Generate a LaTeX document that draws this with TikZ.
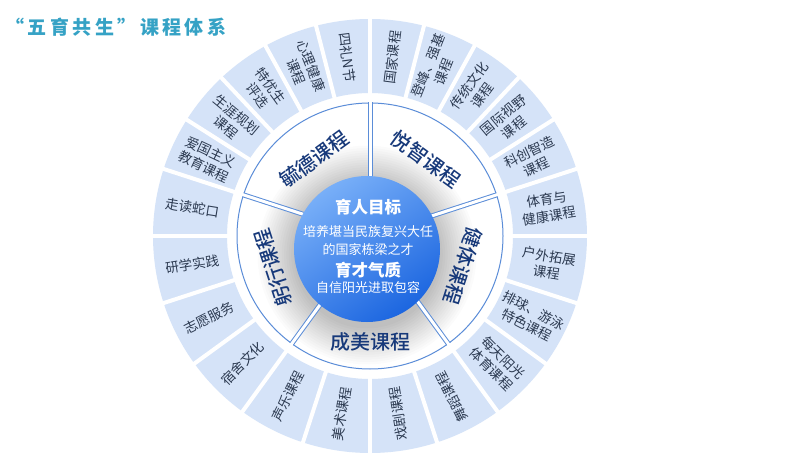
\documentclass[tikz,border=0pt]{standalone}
\usepackage{fontspec}
\newfontfamily\cjk{Noto Sans CJK SC}
\newfontfamily\cjktitle[LetterSpace=18]{Noto Sans CJK SC}
\IfFontExistsTF{Noto Sans CJK SC Medium}
    {\newfontfamily\cjkmid{Noto Sans CJK SC Medium}}
    {\newfontfamily\cjkmid[FakeBold=1.2]{Noto Sans CJK SC}}
\usetikzlibrary{calc}
\definecolor{titleteal}{HTML}{35A2C5}
\definecolor{ringblue}{HTML}{5B8DD8}
\definecolor{boxblue}{HTML}{D5E3F8}
\definecolor{navytext}{HTML}{17397A}
\definecolor{graytext}{HTML}{2B3950}
\definecolor{corelight}{HTML}{78AFF8}
\definecolor{coredark}{HTML}{1C66E0}

\begin{document}
\begin{tikzpicture}[
    x=1pt, y=1pt,
    outertext/.style={font=\cjk\fontsize{13.5}{16.5}\selectfont, text=graytext, align=center, inner sep=0pt},
    midtext/.style={font=\cjkmid\fontsize{20}{22}\selectfont, text=navytext, inner sep=0pt},
    coretitle/.style={font=\cjk\bfseries\fontsize{16.5}{18}\selectfont, text=white, inner sep=0pt},
    corebody/.style={font=\cjk\fontsize{13}{18}\selectfont, text=white, align=center, inner sep=0pt},
]
\useasboundingbox (0,0) rectangle (796,467);
\fill[white] (0,0) rectangle (796,467);

% Title
\node[font=\cjktitle\bfseries\fontsize{19}{22}\selectfont, text=titleteal, anchor=west] (title) at (2,440) {“五育共生”课程体系};

\coordinate (C) at (370,231);
\coordinate (core) at (367,218);

% Outer ring of courses
\begin{scope}[shift={(C)}]
\foreach \i in {0,...,9} {
    \pgfmathsetmacro\a{18+14.4*\i}
    \fill[boxblue] (\a:143) arc[start angle=\a, end angle=\a+14.4, radius=143]
        -- (\a+14.4:217) arc[start angle=\a+14.4, end angle=\a, radius=217] -- cycle;
}
\foreach \i in {0,...,11} {
    \pgfmathsetmacro\a{162+18*\i}
    \fill[boxblue] (\a:143) arc[start angle=\a, end angle=\a+18, radius=143]
        -- (\a+18:217) arc[start angle=\a+18, end angle=\a, radius=217] -- cycle;
}
\foreach \a in {18,32.4,46.8,61.2,75.6,90,104.4,118.8,133.2,147.6,162,180,198,216,234,252,270,288,306,324,342,0}
    \draw[white, line width=4] (\a:138) -- (\a:222);

% Middle ring
\fill[white] (0,0) circle (136);
\end{scope}

% shadow under the core
\foreach \i in {1,...,16}
    \fill[black, opacity=0.016] ($(core)+(0,-6)$) circle (71+2.4*\i);

\begin{scope}[shift={(C)}]
\draw[ringblue, line width=1] (0,0) circle (133);
\foreach \a in {18,90,162,234,306} {
    \draw[ringblue, line width=5] (\a:50) -- (\a:133.5);
    \draw[white, line width=3] (\a:50) -- (\a:135);
}
\end{scope}

% Core
\shade[top color=corelight, bottom color=coredark, shading angle=35] (core) circle (73);

\node[coretitle] (goal) at (368,260) {育人目标};
\node[corebody] (goaltext) at (368,226) {培养堪当民族复兴大任\\的国家栋梁之才};
\node[coretitle] (trait) at (368,197) {育才气质};
\node[corebody] (traittext) at (368,179) {自信阳光进取包容};

% Five course groups
\node[midtext, rotate=36] (yude) at ($(C)+(126:95)$) {毓德课程};
\node[midtext, rotate=-36] (yuezhi) at ($(C)+(54:95)$) {悦智课程};
\node[midtext, rotate=-108] (jianti) at ($(C)+(-18:98)$) {健体课程};
\node[midtext] (chengmei) at ($(C)+(-90:106)$) {成美课程};
\node[midtext, rotate=108] (gongxing) at ($(C)+(198:102)$) {躬行课程};

% Course labels
\foreach \t/\r/\txt [count=\n] in {
    25.2/25.2/{科创智造\\课程},
    39.6/39.6/{国际视野\\课程},
    54/54/{传统文化\\课程},
    68.4/68.4/{登峰、强基\\课程},
    82.8/82.8/{国家课程},
    97.2/-82.8/{四礼N节},
    111.6/-68.4/{心理健康\\课程},
    126/-54/{特优生\\评选},
    140.4/-39.6/{生涯规划\\课程},
    154.8/-25.2/{爱国主义\\教育课程},
    171/-9/{走读蛇口},
    189/9/{研学实践},
    207/27/{志愿服务},
    225/45/{宿舍文化},
    243/63/{声乐课程},
    261/81/{美术课程},
    279/99/{戏剧课程},
    297/117/{舞蹈课程},
    315/-45/{每天阳光\\体育课程},
    333/-27/{排球、游泳\\特色课程},
    351/-9/{户外拓展\\课程},
    9/9/{体育与\\健康课程}}
    \node[outertext, rotate=\r] (course\n) at ($(C)+(\t:180)$) {\txt};

\end{tikzpicture}
\end{document}
